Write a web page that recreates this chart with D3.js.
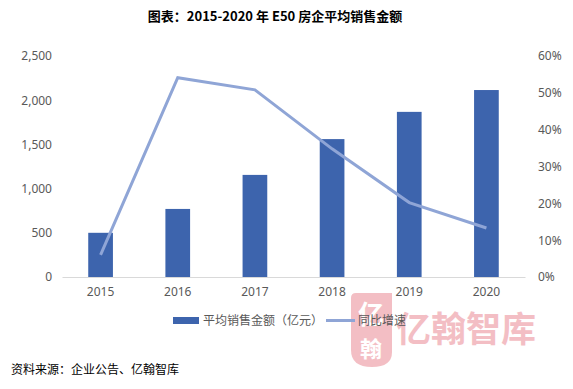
<!DOCTYPE html>
<html>
<head>
<meta charset="utf-8">
<script src="https://cdn.jsdelivr.net/npm/d3@7"></script>
<style>
  body { margin: 0; background: #fff; }
  svg { display: block; font-family: "Noto Sans CJK SC", "Noto Sans", sans-serif; }
</style>
</head>
<body>
<script>
// data
var years = ['2015', '2016', '2017', '2018', '2019', '2020'];
var avgSales = [500, 770, 1155, 1560, 1868, 2115];   // 亿元
var yoyGrowth = [6.0, 54.1, 50.8, 34.8, 20.2, 13.3]; // %
var leftTicks = [0, 500, 1000, 1500, 2000, 2500];
var rightTicks = [0, 10, 20, 30, 40, 50, 60];

var svgWidth = 573, svgHeight = 389;
var margin = {top: 56, right: 48, bottom: 112, left: 62};
var w = svgWidth - margin.left - margin.right;
var h = svgHeight - margin.top - margin.bottom;

var svg = d3.select('body').append('svg')
    .attr('width', svgWidth)
    .attr('height', svgHeight);

// title
svg.append('text')
    .attr('x', 275).attr('y', 21)
    .attr('text-anchor', 'middle')
    .attr('font-size', '13px')
    .attr('font-weight', 'bold')
    .attr('fill', '#000')
    .text('图表：2015-2020 年 E50 房企平均销售金额');

// watermark (behind everything)
var wm = svg.append('g').attr('opacity', 0.55);
wm.append('path')
    .attr('d', 'M356,293 L392,293 L392,352 Q392,367 372,367 Q351,367 351,350 L351,298 Q351,293 356,293 Z')
    .attr('fill', '#eb8a94');
wm.append('text').attr('x', 371).attr('y', 324).attr('text-anchor', 'middle')
    .attr('font-size', '26px').attr('font-weight', 'bold').attr('fill', '#fff').text('亿');
wm.append('text').attr('x', 371).attr('y', 357).attr('text-anchor', 'middle')
    .attr('font-size', '22px').attr('font-weight', 'bold').attr('fill', '#fff').text('翰');
wm.append('text').attr('x', 396).attr('y', 342)
    .attr('font-size', '35px').attr('font-weight', 'bold').attr('fill', '#eb8a94')
    .attr('letter-spacing', '0px')
    .text('亿翰智库');

var g = svg.append('g').attr('transform', 'translate(' + margin.left + ',' + margin.top + ')');

var x = d3.scaleBand().domain(years).range([0, w]).paddingInner(0.68).paddingOuter(0.34);
var yL = d3.scaleLinear().domain([0, 2500]).range([h, 0]);
var yR = d3.scaleLinear().domain([0, 60]).range([h, 0]);

// left axis
var leftAxis = d3.axisLeft(yL).tickValues(leftTicks).tickSize(0).tickPadding(10)
    .tickFormat(d3.format(','));
var la = g.append('g').call(leftAxis);
la.select('.domain').remove();
la.selectAll('text').attr('fill', '#595959').attr('font-size', '12px')
    .style('font-family', '"Noto Sans", sans-serif');

// right axis
var rightAxis = d3.axisRight(yR).tickValues(rightTicks).tickSize(0).tickPadding(13)
    .tickFormat(function(d) { return d + '%'; });
var ra = g.append('g').attr('transform', 'translate(' + w + ',0)').call(rightAxis);
ra.select('.domain').remove();
ra.selectAll('text').attr('fill', '#595959').attr('font-size', '12px')
    .style('font-family', '"Noto Sans", sans-serif');

// bars
g.selectAll('rect.bar').data(avgSales).enter().append('rect')
    .attr('class', 'bar')
    .attr('x', function(d, i) { return x(years[i]); })
    .attr('y', function(d) { return yL(d); })
    .attr('width', x.bandwidth())
    .attr('height', function(d) { return h - yL(d); })
    .attr('fill', '#3d64ad');

// bottom axis
var bottomAxis = d3.axisBottom(x).tickSize(0).tickPadding(10);
var ba = g.append('g').attr('transform', 'translate(0,' + h + ')').call(bottomAxis);
ba.select('.domain').attr('stroke', '#d9d9d9').attr('stroke-width', 1);
ba.selectAll('text').attr('fill', '#595959').attr('font-size', '12px')
    .style('font-family', '"Noto Sans", sans-serif');

// growth line
var line = d3.line()
    .x(function(d, i) { return x(years[i]) + x.bandwidth() / 2; })
    .y(function(d) { return yR(d); });
g.append('path').datum(yoyGrowth)
    .attr('d', line)
    .attr('fill', 'none')
    .attr('stroke', '#8fa5d6')
    .attr('stroke-width', 3);

// legend
var lg = svg.append('g');
lg.append('rect').attr('x', 173).attr('y', 317).attr('width', 26).attr('height', 7).attr('fill', '#3d64ad');
lg.append('text').attr('x', 203).attr('y', 325).attr('font-size', '12px').attr('fill', '#595959')
    .text('平均销售金额（亿元）');
lg.append('line').attr('x1', 326).attr('x2', 355).attr('y1', 320.5).attr('y2', 320.5)
    .attr('stroke', '#8fa5d6').attr('stroke-width', 3);
lg.append('text').attr('x', 358).attr('y', 325).attr('font-size', '12px').attr('fill', '#595959')
    .text('同比增速');

// source
svg.append('text')
    .attr('x', 11).attr('y', 374)
    .attr('font-size', '12px')
    .attr('fill', '#000')
    .text('资料来源：企业公告、亿翰智库');
</script>
</body>
</html>
